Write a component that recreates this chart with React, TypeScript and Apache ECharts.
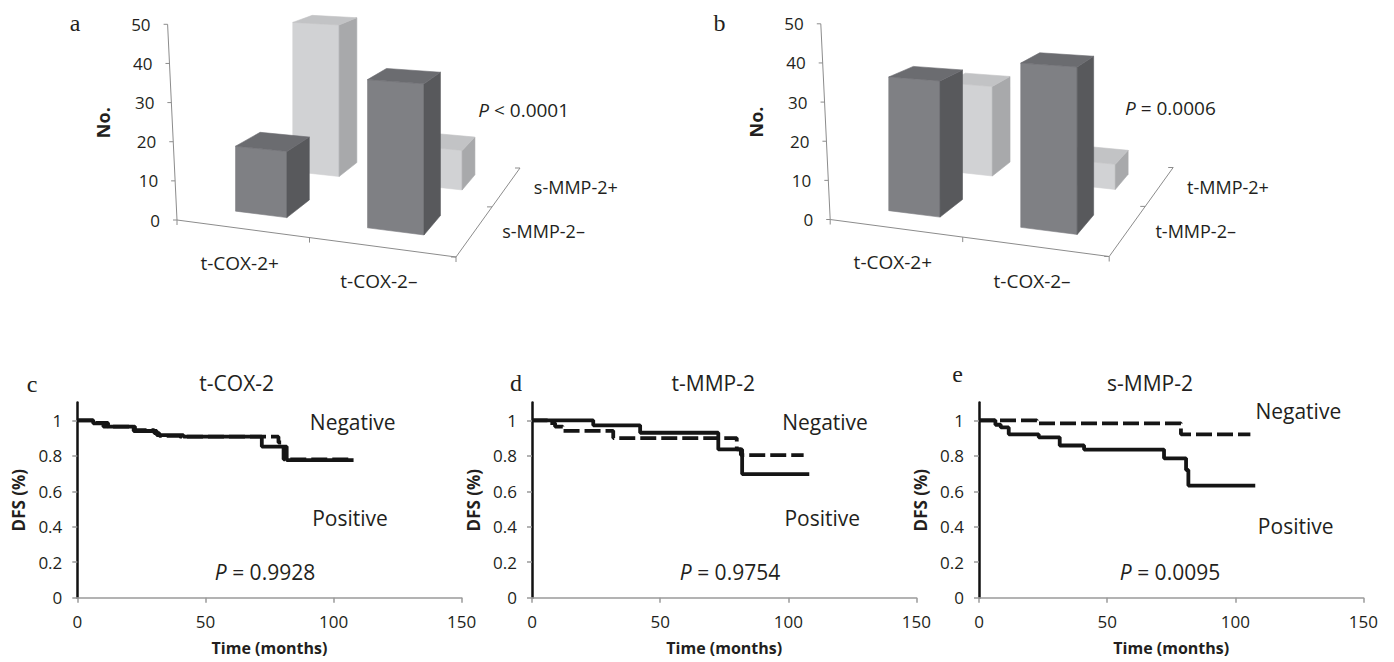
import React, { useEffect, useRef } from "react";
import * as echarts from "echarts";

const FONT = "'Open Sans', 'Noto Sans', sans-serif";
const SERIF = "'Liberation Serif', 'DejaVu Serif', serif";
const INK = "#231f20";
const AXIS_GRAY = "#8c8c8c";

// ---------- panels a / b : 3-D column charts ----------
const tCoxCategories = ["t-COX-2+", "t-COX-2–"];
const sMmpRows = ["s-MMP-2–", "s-MMP-2+"];
const tMmpRows = ["t-MMP-2–", "t-MMP-2+"];
// [t-COX-2 category index, MMP-2 row index, count]
const countsA = [
  [0, 0, 17],
  [0, 1, 44],
  [1, 0, 37],
  [1, 1, 11],
];
const countsB = [
  [0, 0, 35],
  [0, 1, 26],
  [1, 0, 41],
  [1, 1, 7],
];
const countTicks = [0, 10, 20, 30, 40, 50];
const pTextA = "< 0.0001";
const pTextB = "= 0.0006";

// ---------- panels c / d / e : Kaplan–Meier curves ----------
const timeTicks = [0, 50, 100, 150];
const dfsTicks = [0, 0.2, 0.4, 0.6, 0.8, 1];
// [time (months), DFS] – DFS holds from this time on
const cNegative = [
  [0, 1], [6.2, 0.985], [12, 0.965], [22.5, 0.945], [30, 0.928], [32, 0.912],
  [40, 0.908], [78.5, 0.875], [80.5, 0.78], [107.1, 0.78],
];
const cPositive = [
  [0, 1], [6.2, 0.983], [10.2, 0.964], [22, 0.94], [31, 0.917], [41.4, 0.908],
  [72, 0.852], [81.7, 0.776], [107.8, 0.776],
];
const dNegative = [
  [0, 1], [6, 0.985], [9, 0.965], [12, 0.941], [31.7, 0.9], [79.9, 0.836],
  [81.5, 0.804], [106, 0.804],
];
const dPositive = [
  [0, 1], [23.9, 0.972], [42.2, 0.93], [72.7, 0.836], [82, 0.697], [108.2, 0.697],
];
const eNegative = [
  [0, 1], [22.6, 0.983], [78.8, 0.921], [105.9, 0.921],
];
const ePositive = [
  [0, 1], [6.4, 0.975], [8.5, 0.96], [11.6, 0.921], [23.3, 0.904], [31.5, 0.858],
  [41, 0.835], [72.2, 0.786], [80.8, 0.72], [81.7, 0.632], [107.8, 0.632],
];
const kmTitles = ["t-COX-2", "t-MMP-2", "s-MMP-2"];
const kmP = ["= 0.9928", "= 0.9754", "= 0.0095"];

// ---------- layout ----------
const FR_OFF = [279, 37];
const BR_OFF = [343, -52];
const BL_OFF = [117, -74.6];
const LEAN = -0.188;
const DARK = { front: "#7f8084", side: "#58595c", top: "#6b6c70" };
const LIGHT = { front: "#d1d2d4", side: "#a8a9ab", top: "#c2c3c5" };

function makeHomography(p0: number[], p1: number[], p2: number[], p3: number[]) {
  const sx = p0[0] - p1[0] + p2[0] - p3[0];
  const sy = p0[1] - p1[1] + p2[1] - p3[1];
  const dx1 = p1[0] - p2[0], dx2 = p3[0] - p2[0];
  const dy1 = p1[1] - p2[1], dy2 = p3[1] - p2[1];
  const det = dx1 * dy2 - dx2 * dy1;
  const g = (sx * dy2 - dx2 * sy) / det;
  const h = (dx1 * sy - sx * dy1) / det;
  const a = p1[0] - p0[0] + g * p1[0], b = p3[0] - p0[0] + h * p3[0], c = p0[0];
  const d = p1[1] - p0[1] + g * p1[1], e = p3[1] - p0[1] + h * p3[1], f = p0[1];
  return (u: number, v: number) => {
    const w = g * u + h * v + 1;
    return [(a * u + b * v + c) / w, (d * u + e * v + f) / w, w];
  };
}

function projector(api: any) {
  const o = api.coord([0, 0]);
  const s0 = api.size([0, 1])[1];
  const H = makeHomography(
    o,
    [o[0] + FR_OFF[0], o[1] + FR_OFF[1]],
    [o[0] + BR_OFF[0], o[1] + BR_OFF[1]],
    [o[0] + BL_OFF[0], o[1] + BL_OFF[1]]
  );
  return (X: number, Z: number, Y: number) => {
    const [x, y, w] = H(X / 2, Z / 2);
    return [x, y - (Y * s0) / w];
  };
}

const txt = (text: string, x: number, y: number, align: string, size: number, extra: any = {}) => ({
  type: "text",
  x,
  y,
  style: {
    text,
    fill: INK,
    fontSize: size,
    fontFamily: FONT,
    align,
    verticalAlign: "middle",
    ...extra,
  },
});

function bar3DSeries(idx: number, counts: number[][], rows: string[]) {
  const sorted = [...counts].sort((p, q) => q[1] - p[1] || p[0] - q[0]);
  const frame = {
    type: "custom",
    xAxisIndex: idx,
    yAxisIndex: idx,
    clip: false,
    silent: true,
    data: [[0, 0]],
    renderItem: (params: any, api: any) => {
      const P = projector(api);
      const s0 = api.size([0, 1])[1];
      const ch: any[] = [];
      const line = (a: number[], b: number[]) => ({
        type: "line",
        shape: { x1: a[0], y1: a[1], x2: b[0], y2: b[1] },
        style: { stroke: AXIS_GRAY, lineWidth: 1 },
      });
      const o = P(0, 0, 0);
      const yMax = countTicks[countTicks.length - 1];
      ch.push(line(o, [o[0] + LEAN * yMax, o[1] - yMax * s0]));
      ch.push(line(P(0, 0, 0), P(2, 0, 0)));
      [0, 1, 2].forEach((i) => {
        const p = P(i, 0, 0);
        ch.push(line(p, [p[0], p[1] + 5]));
      });
      ch.push(line(P(2, 0, 0), P(2, 2, 0)));
      [0, 1, 2].forEach((j) => {
        const p = P(2, j, 0);
        ch.push(line([p[0] - 5, p[1]], p));
      });
      tCoxCategories.forEach((c, i) => {
        const p = P(i + 0.5, 0, 0);
        ch.push(txt(c, p[0] - 2, p[1] + 34, "center", 19));
      });
      rows.forEach((r, j) => {
        const p = P(2, j + 0.5, 0);
        ch.push(txt(r, p[0] + 27, p[1] + 1, "left", 18));
      });
      return { type: "group", children: ch };
    },
  };
  const ticks = {
    type: "custom",
    xAxisIndex: idx,
    yAxisIndex: idx,
    clip: false,
    silent: true,
    data: countTicks.map((v) => [0, v]),
    renderItem: (params: any, api: any) => {
      const v = api.value(1);
      const o = api.coord([0, 0]);
      const s0 = api.size([0, 1])[1];
      const x = o[0] + LEAN * v;
      const y = o[1] - v * s0;
      return {
        type: "group",
        children: [
          {
            type: "line",
            shape: { x1: x - 4, y1: y, x2: x, y2: y },
            style: { stroke: AXIS_GRAY, lineWidth: 1 },
          },
          txt(String(v), x - 17, y, "right", 17),
        ],
      };
    },
  };
  const bars = {
    type: "custom",
    xAxisIndex: idx,
    yAxisIndex: idx,
    clip: false,
    silent: true,
    data: sorted,
    renderItem: (params: any, api: any) => {
      const P = projector(api);
      const ci = api.value(0), di = api.value(1), v = api.value(2);
      const x0 = ci + 0.3, x1 = ci + 0.7, z0 = di + 0.3, z1 = di + 0.7;
      const pal = di === 0 ? DARK : LIGHT;
      const poly = (pts: number[][], fill: string) => ({
        type: "polygon",
        shape: { points: pts },
        style: { fill, stroke: fill, lineWidth: 0.6 },
      });
      return {
        type: "group",
        children: [
          poly([P(x0, z0, 0), P(x1, z0, 0), P(x1, z0, v), P(x0, z0, v)], pal.front),
          poly([P(x1, z0, 0), P(x1, z1, 0), P(x1, z1, v), P(x1, z0, v)], pal.side),
          poly([P(x0, z0, v), P(x1, z0, v), P(x1, z1, v), P(x0, z1, v)], pal.top),
        ],
      };
    },
  };
  return [frame, ticks, bars];
}

const KM_LEFTS = [77.3, 532, 979];
const KM_TOP = 402.6;
const KM_W = 384.4;
const KM_H = 195.1;

function kmLine(idx: number, data: number[][], dashed: boolean) {
  return {
    type: "line",
    xAxisIndex: idx,
    yAxisIndex: idx,
    data,
    step: "end",
    symbol: "none",
    showSymbol: false,
    silent: true,
    lineStyle: { color: "#151515", width: 3.8, type: dashed ? [16, 5] : "solid" },
  };
}

const pRich = (rest: string, x: number, y: number, align: string, size: number) => ({
  type: "text",
  x,
  y,
  style: {
    text: "{i|P} " + rest,
    fill: INK,
    fontSize: size,
    fontFamily: FONT,
    align,
    verticalAlign: "middle",
    rich: {
      i: { fontStyle: "italic", fontSize: size, fontFamily: FONT, fill: INK },
    },
  },
});

export default function App() {
  const ref = useRef<HTMLDivElement>(null);
  useEffect(() => {
    document.body.style.margin = "0";
    const chart = echarts.init(ref.current!, null, { renderer: "svg" });

    const grids: any[] = [
      { left: 177, top: 24.3, width: 279, height: 195.7 },
      { left: 830.2, top: 23.8, width: 279, height: 195.7 },
      ...KM_LEFTS.map((l) => ({ left: l, top: KM_TOP, width: KM_W, height: KM_H })),
    ].map((g) => ({ ...g, outerBoundsMode: "none", containLabel: false }));

    const hiddenX = (i: number) => ({ gridIndex: i, type: "value", min: 0, max: 2, show: false });
    const hiddenY = (i: number) => ({
      gridIndex: i, type: "value", min: 0, max: countTicks[countTicks.length - 1], show: false,
    });

    const kmX = (i: number) => ({
      gridIndex: i,
      type: "value",
      min: timeTicks[0],
      max: timeTicks[timeTicks.length - 1],
      interval: timeTicks[1] - timeTicks[0],
      axisLine: { show: true, lineStyle: { color: "#9a9a9a", width: 1.5 } },
      axisTick: { show: true, length: 5, lineStyle: { color: "#9a9a9a", width: 1.5 } },
      axisLabel: { fontSize: 17, color: INK, fontFamily: FONT, margin: 15 },
      splitLine: { show: false },
      name: "Time (months)",
      nameLocation: "middle",
      nameGap: 42,
      nameTextStyle: { fontWeight: "bold", fontSize: 16, fontFamily: FONT, color: INK },
    });
    const kmY = (i: number) => ({
      gridIndex: i,
      type: "value",
      min: 0,
      max: 1.1,
      axisLine: { show: true, lineStyle: { color: "#111", width: 2.5 } },
      axisTick: {
        show: true, length: 5, customValues: dfsTicks,
        lineStyle: { color: "#9a9a9a", width: 1.5 },
      },
      axisLabel: {
        customValues: dfsTicks, fontSize: 17, color: INK, fontFamily: FONT, margin: 15,
      },
      splitLine: { show: false },
      name: "DFS (%)",
      nameLocation: "middle",
      nameGap: 50,
      nameTextStyle: { fontWeight: "bold", fontSize: 17, fontFamily: FONT, color: INK },
    });

    const graphic: any[] = [
      txt("a", 75, 22.5, "center", 24, { fontFamily: SERIF }),
      txt("b", 719.5, 22.5, "center", 24, { fontFamily: SERIF }),
      txt("c", 32, 384, "center", 24, { fontFamily: SERIF }),
      txt("d", 516, 383, "center", 24, { fontFamily: SERIF }),
      txt("e", 957.5, 373.5, "center", 24, { fontFamily: SERIF }),
      { ...txt("No.", 103.3, 122.7, "center", 18, { fontWeight: "bold" }), rotation: Math.PI / 2 },
      { ...txt("No.", 756.3, 122, "center", 18, { fontWeight: "bold" }), rotation: Math.PI / 2 },
      pRich(pTextA, 478.3, 110, "left", 19),
      pRich(pTextB, 1125, 108.3, "left", 19),
      txt(kmTitles[0], 236.7, 383, "center", 21),
      txt(kmTitles[1], 713.3, 383, "center", 21),
      txt(kmTitles[2], 1150, 383, "center", 21),
      txt("Negative", 352.7, 421.7, "center", 21),
      txt("Positive", 350, 518.3, "center", 21),
      txt("Negative", 825, 421.7, "center", 21),
      txt("Positive", 822.3, 518.3, "center", 21),
      txt("Negative", 1298.3, 410.7, "center", 21),
      txt("Positive", 1295.7, 526, "center", 21),
      pRich(kmP[0], 265, 571.7, "center", 21),
      pRich(kmP[1], 730, 571.7, "center", 21),
      pRich(kmP[2], 1170, 571.7, "center", 21),
    ];

    chart.setOption({
      animation: false,
      backgroundColor: "#ffffff",
      textStyle: { fontFamily: FONT },
      grid: grids,
      xAxis: [hiddenX(0), hiddenX(1), kmX(2), kmX(3), kmX(4)],
      yAxis: [hiddenY(0), hiddenY(1), kmY(2), kmY(3), kmY(4)],
      series: [
        ...bar3DSeries(0, countsA, sMmpRows),
        ...bar3DSeries(1, countsB, tMmpRows),
        kmLine(2, cNegative, true),
        kmLine(2, cPositive, false),
        kmLine(3, dNegative, true),
        kmLine(3, dPositive, false),
        kmLine(4, eNegative, true),
        kmLine(4, ePositive, false),
      ],
      graphic,
    });
    return () => chart.dispose();
  }, []);
  return (
    <div
      ref={ref}
      style={{ position: "absolute", left: 0, top: 0, width: 1394, height: 662 }}
    />
  );
}
